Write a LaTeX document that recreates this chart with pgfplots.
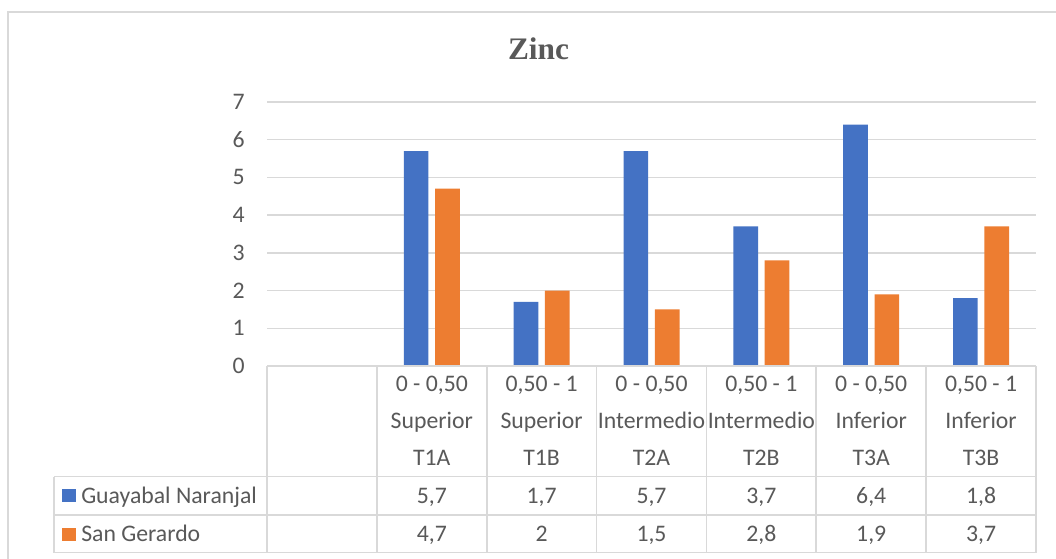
\documentclass[border=0pt]{standalone}
\usepackage{pgfplots}
\pgfplotsset{compat=1.18}
\usepackage{fontspec}
\setmainfont{Carlito}
\newfontfamily\tnr{Liberation Serif}
\definecolor{cblue}{HTML}{4472C4}
\definecolor{corange}{HTML}{ED7D31}
\definecolor{gridc}{HTML}{D9D9D9}
\definecolor{txt}{HTML}{595959}
\newcommand\tabfont{\fontsize{17.8}{20}\selectfont}
\newcommand\col[6]{%
  \pgfmathsetmacro\cx{267+109.857*(#1+0.5)}%
  \node[anchor=base] at (\cx,166.3) {#2};%
  \node[anchor=base] at (\cx,129.7) {#3};%
  \node[anchor=base] at (\cx,93) {#4};%
  \node[anchor=base] at (\cx,54.7) {#5};%
  \node[anchor=base] at (\cx,17) {#6};%
}
\begin{document}
\begin{tikzpicture}[x=0.75pt,y=0.75pt]
\useasboundingbox (0,0) rectangle (1056,558);
\fill[white] (0,0) rectangle (1056,558);
\draw[gridc, line width=1.2pt] (8,-5) -- (8,546) -- (1065,546);
\node[font=\tnr\bfseries\fontsize{23.5}{27}\selectfont, text=txt, anchor=base] at (538.5,498.7) {Zinc};
\begin{axis}[at={(200.25pt,144pt)}, anchor=south west, scale only axis,
  width=576.75pt, height=198pt,
  xmin=-0.5, xmax=6.5, ymin=0, ymax=7, ytick={0,...,7}, xtick=\empty,
  ymajorgrids, grid style={draw=gridc, line width=1pt},
  axis line style={draw=none}, major tick length=0pt, tick style={draw=none},
  yticklabel style={anchor=east, inner sep=0pt, xshift=-16.5pt, font=\tabfont, text=txt},
  /pgf/number format/assume math mode=true,
  ybar=5pt, bar width=18.5pt, clip=false]
\addplot[fill=cblue, draw=none] coordinates {(1,5.7) (2,1.7) (3,5.7) (4,3.7) (5,6.4) (6,1.8)};
\addplot[fill=corange, draw=none] coordinates {(1,4.7) (2,2) (3,1.5) (4,2.8) (5,1.9) (6,3.7)};
\end{axis}
% data table
\begin{scope}[gridc, line width=1.2pt]
\draw (267,192) -- (1036,192);
\draw (54,81.5) -- (1036,81.5);
\draw (54,43) -- (1036,43);
\draw (54,5.5) -- (1036,5.5);
\draw (54,5.5) -- (54,81.5);
\foreach \k in {0,...,7} {\draw ({267+109.857*\k},5.5) -- ({267+109.857*\k},192);}
\end{scope}
\begin{scope}[every node/.style={font=\tabfont, text=txt, inner sep=0pt}]
\col{1}{0 - 0,50}{Superior}{T1A}{5,7}{4,7}
\col{2}{0,50 - 1}{Superior}{T1B}{1,7}{2}
\col{3}{0 - 0,50}{Intermedio}{T2A}{5,7}{1,5}
\col{4}{0,50 - 1}{Intermedio}{T2B}{3,7}{2,8}
\col{5}{0 - 0,50}{Inferior}{T3A}{6,4}{1,9}
\col{6}{0,50 - 1}{Inferior}{T3B}{1,8}{3,7}
\fill[cblue] (62,56.3) rectangle (75.7,68.7);
\fill[corange] (62,17.4) rectangle (75.7,29.8);
\node[anchor=base west] at (81,54.7) {Guayabal Naranjal};
\node[anchor=base west] at (81,17) {San Gerardo};
\end{scope}
\end{tikzpicture}
\end{document}
